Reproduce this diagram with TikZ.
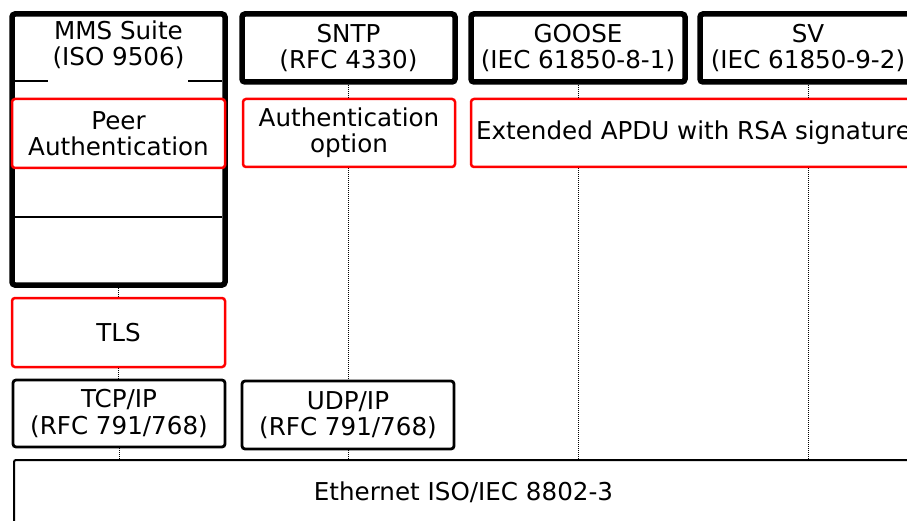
\documentclass[tikz,border=0pt]{standalone}
\usepackage{fontspec}
\setmainfont{DejaVu Sans}
\begin{document}
\begin{tikzpicture}[x=1pt,y=-1pt,
  font=\fontsize{24.6}{26.2}\selectfont,
  protobox/.style={draw=black, line width=5.5pt, rounded corners=3pt, fill=white, align=center, inner sep=0pt},
  secbox/.style={draw=red, line width=2.5pt, rounded corners=3pt, fill=white, align=center, inner sep=0pt},
  lowbox/.style={draw=black, line width=2.8pt, rounded corners=3pt, fill=white, align=center, inner sep=0pt},
  ethbox/.style={draw=black, line width=2pt, rounded corners=2pt, fill=white, align=center, inner sep=0pt},
  divider/.style={draw=black, line width=1.5pt},
  link/.style={densely dotted, line width=1pt}
]
\useasboundingbox (0,0) rectangle (907,521);
\clip (0,0) rectangle (907,521);

% Ethernet
\node[ethbox, minimum width=899pt, minimum height=64pt] (eth) at (463.5,492) {Ethernet ISO/IEC 8802-3};

% MMS column
\node[protobox, minimum width=213pt, minimum height=271pt] (mms) at (118.5,149.5) {};
\node[align=center, inner sep=0pt] (mmst) at (118.5,45) {MMS Suite\\(ISO 9506)};
\draw[divider] (15,81) -- (48,81);
\draw[divider] (188,81) -- (222,81);
\draw[divider] (15,217) -- (222,217);
\node[secbox, minimum width=213pt, minimum height=69pt] (peer) at (118.5,133.5) {Peer\\Authentication};
\node[secbox, minimum width=213pt, minimum height=69pt] (tls) at (118.5,332.5) {TLS};
\node[lowbox, minimum width=212pt, minimum height=67pt] (tcp) at (119,413.5) {TCP/IP\\(RFC 791/768)};

% SNTP column
\node[protobox, minimum width=213pt, minimum height=68pt] (sntp) at (348.5,48) {SNTP\\(RFC 4330)};
\node[secbox, minimum width=212pt, minimum height=68pt] (auth) at (349,133) {Authentication\\option};
\node[lowbox, minimum width=212pt, minimum height=68pt] (udp) at (348,415) {UDP/IP\\(RFC 791/768)};

% GOOSE / SV
\node[protobox, minimum width=214pt, minimum height=68pt] (goose) at (578,48) {GOOSE\\(IEC 61850-8-1)};
\node[protobox, minimum width=216pt, minimum height=68pt] (sv) at (808,48) {SV\\(IEC 61850-9-2)};
\node[secbox, minimum width=445pt, minimum height=68pt] (apdu) at (693.5,133) {Extended APDU with RSA signature};

% dotted links
\draw[link] (mms.south) -- (mms.south |- tls.north);
\draw[link] (tls.south) -- (tls.south |- tcp.north);
\draw[link] (tcp.south) -- (tcp.south |- eth.north);

\draw[link] (sntp.south) -- (sntp.south |- auth.north);
\draw[link] (sntp.south |- auth.south) -- (sntp.south |- udp.north);
\draw[link] (sntp.south |- udp.south) -- (sntp.south |- eth.north);

\draw[link] (goose.south) -- (goose.south |- apdu.north);
\draw[link] (goose.south |- apdu.south) -- (goose.south |- eth.north);
\draw[link] (sv.south) -- (sv.south |- apdu.north);
\draw[link] (sv.south |- apdu.south) -- (sv.south |- eth.north);
\end{tikzpicture}
\end{document}
